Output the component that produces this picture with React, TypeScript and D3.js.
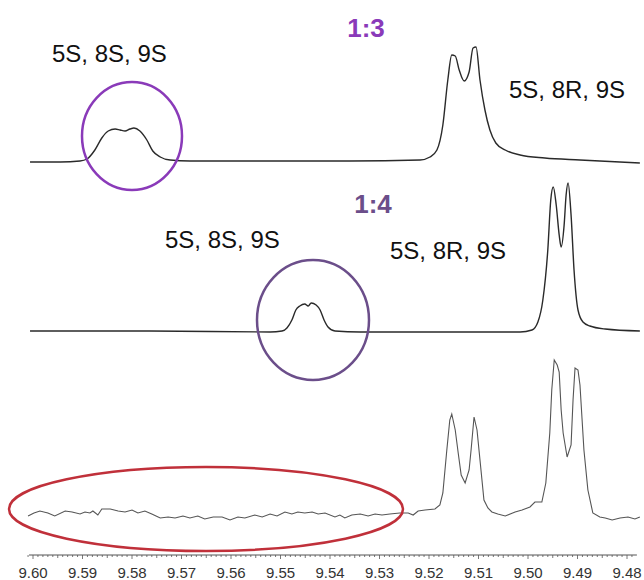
import React from "react";
import * as d3 from "d3";

// ---- data (chemical shift in ppm, intensity in arbitrary units) ----
const tickLabels = ["9.60", "9.59", "9.58", "9.57", "9.56", "9.55", "9.54", "9.53", "9.52", "9.51", "9.50", "9.49", "9.48"];

const topPpm = [9.6006, 9.5945, 9.5905, 9.5891, 9.5875, 9.5861, 9.5848, 9.5834, 9.5824, 9.5814, 9.5804, 9.5796, 9.5784, 9.5770, 9.5758, 9.5743, 9.5723, 9.5683, 9.5541, 9.5360, 9.5218, 9.5198, 9.5184, 9.5172, 9.5162, 9.5154, 9.5147, 9.5139, 9.5129, 9.5119, 9.5111, 9.5105, 9.5097, 9.5087, 9.5077, 9.5065, 9.5046, 9.5016, 9.4966, 9.4895, 9.4774];
const topInt = [1, 1, 2, 4, 13, 25, 32, 34, 33, 32, 34, 35, 32, 23, 12, 6, 3, 2, 2, 2, 3, 6, 13, 38, 83, 108, 107, 93, 82, 91, 115, 116, 83, 53, 33, 20, 13, 8, 5, 3, 0];

const midPpm = [9.6006, 9.5764, 9.5521, 9.5497, 9.5487, 9.5477, 9.5469, 9.5461, 9.5451, 9.5444, 9.5438, 9.5428, 9.5420, 9.5412, 9.5404, 9.5390, 9.5339, 9.5158, 9.5016, 9.4992, 9.4980, 9.4970, 9.4960, 9.4954, 9.4949, 9.4943, 9.4937, 9.4933, 9.4927, 9.4923, 9.4919, 9.4913, 9.4907, 9.4899, 9.4889, 9.4875, 9.4844, 9.4774];
const midInt = [2, 2, 1, 2, 5, 13, 23, 27, 29, 27, 30, 28, 23, 13, 6, 2, 1, 1, 1, 3, 11, 33, 83, 133, 146, 128, 98, 86, 108, 138, 150, 118, 63, 23, 11, 7, 4, 2];

const botPpm = [9.6010, 9.5998, 9.5986, 9.5970, 9.5956, 9.5935, 9.5921, 9.5905, 9.5895, 9.5885, 9.5879, 9.5869, 9.5861, 9.5844, 9.5828, 9.5814, 9.5800, 9.5788, 9.5774, 9.5760, 9.5743, 9.5727, 9.5713, 9.5697, 9.5683, 9.5667, 9.5653, 9.5636, 9.5618, 9.5602, 9.5586, 9.5572, 9.5552, 9.5537, 9.5521, 9.5507, 9.5491, 9.5477, 9.5465, 9.5451, 9.5436, 9.5424, 9.5410, 9.5390, 9.5380, 9.5370, 9.5356, 9.5339, 9.5323, 9.5309, 9.5295, 9.5279, 9.5259, 9.5242, 9.5232, 9.5222, 9.5208, 9.5188, 9.5178, 9.5172, 9.5164, 9.5158, 9.5154, 9.5147, 9.5141, 9.5135, 9.5127, 9.5119, 9.5115, 9.5109, 9.5103, 9.5097, 9.5089, 9.5081, 9.5073, 9.5061, 9.5046, 9.5036, 9.5026, 9.5012, 9.4996, 9.4986, 9.4972, 9.4964, 9.4956, 9.4952, 9.4947, 9.4941, 9.4937, 9.4933, 9.4929, 9.4921, 9.4913, 9.4909, 9.4905, 9.4899, 9.4895, 9.4887, 9.4879, 9.4869, 9.4855, 9.4844, 9.4830, 9.4814, 9.4798, 9.4784, 9.4774];
const botInt = [4, 7, 9, 7, 4, 9, 8, 6, 8, 7, 9, 5, 11, 11, 9, 8, 10, 7, 9, 6, 2, 3, 2, 4, 2, 4, 1, 3, 3, 0, 3, 2, 5, 3, 6, 4, 8, 6, 8, 7, 8, 6, 7, 3, 5, 2, 5, 6, 4, 6, 5, 6, 7, 7, 5, 9, 10, 11, 15, 27, 70, 100, 106, 90, 67, 45, 37, 50, 70, 103, 90, 60, 20, 12, 8, 6, 4, 6, 8, 10, 13, 18, 18, 37, 87, 130, 160, 155, 148, 110, 87, 63, 75, 120, 152, 150, 135, 70, 30, 7, 3, 2, 0, 2, 3, 1, 3];

const ratioLabels = ["1:3", "1:4"];
const isomerLabels = ["5S, 8S, 9S", "5S, 8R, 9S"];

const W = 644;
const H = 580;
const FONT = "'Liberation Sans', Arial, sans-serif";

export default function App() {
  const x = d3.scaleLinear().domain([9.60, 9.48]).range([33, 627]);
  const y = d3.scaleLinear().domain([0, 100]).range([0, -100]);

  const smooth = d3
    .line<[number, number]>()
    .x((d) => x(d[0]))
    .y((d) => y(d[1]))
    .curve(d3.curveMonotoneX);
  const raw = d3
    .line<[number, number]>()
    .x((d) => x(d[0]))
    .y((d) => y(d[1]))
    .curve(d3.curveLinear);

  const zip = (a: number[], b: number[]) => a.map((v, i) => [v, b[i]] as [number, number]);

  const axisY = 555;
  const minorTicks = d3.range(0, 123).map((i) => 9.601 - i * 0.001).filter((v) => v >= 9.4785);

  return (
    <svg
      width={W}
      height={H}
      style={{ position: "absolute", left: 0, top: 0, background: "#fff" }}
      fontFamily={FONT}
    >
      <rect width={W} height={H} fill="#fff" />

      {/* top spectrum 1:3 */}
      <g transform="translate(0,163)">
        <path d={smooth(zip(topPpm, topInt)) || ""} fill="none" stroke="#2a2a2a" strokeWidth={1.4} />
      </g>
      {/* middle spectrum 1:4 */}
      <g transform="translate(0,333)">
        <path d={smooth(zip(midPpm, midInt)) || ""} fill="none" stroke="#2a2a2a" strokeWidth={1.4} />
      </g>
      {/* bottom spectrum */}
      <g transform="translate(0,520)">
        <path d={raw(zip(botPpm, botInt)) || ""} fill="none" stroke="#555" strokeWidth={1.1} />
      </g>

      {/* annotations */}
      <ellipse cx={132} cy={136} rx={50} ry={54} fill="none" stroke="#8a3ab9" strokeWidth={2.5} />
      <ellipse cx={313} cy={320} rx={56} ry={60} fill="none" stroke="#6b4e8a" strokeWidth={2.5} />
      <ellipse cx={206} cy={509} rx={197} ry={42} fill="none" stroke="#c0303a" strokeWidth={2.5} />

      <text x={366} y={37} textAnchor="middle" fontSize={26} fontWeight="bold" fill="#8a3ab9">{ratioLabels[0]}</text>
      <text x={373} y={213} textAnchor="middle" fontSize={26} fontWeight="bold" fill="#6b4e8a">{ratioLabels[1]}</text>

      <text x={52} y={62} fontSize={24} fill="#111">{isomerLabels[0]}</text>
      <text x={509} y={98} fontSize={24} fill="#111">{isomerLabels[1]}</text>
      <text x={165} y={248} fontSize={24} fill="#111">{isomerLabels[0]}</text>
      <text x={390} y={259} fontSize={24} fill="#111">{isomerLabels[1]}</text>

      {/* axis */}
      <line x1={x(9.6008)} x2={x(9.478)} y1={axisY} y2={axisY} stroke="#555" strokeWidth={1} />
      {minorTicks.map((v, i) => {
        const k = Math.round(v * 1000);
        const major = k % 10 === 0;
        const mid = k % 5 === 0;
        return (
          <line key={i} x1={x(v)} x2={x(v)} y1={axisY} y2={axisY + (major ? 4 : mid ? 3 : 2)} stroke="#555" strokeWidth={0.8} />
        );
      })}
      {tickLabels.map((t) => (
        <text key={t} x={x(+t)} y={578} textAnchor="middle" fontSize={15} fill="#333">{t}</text>
      ))}
    </svg>
  );
}
